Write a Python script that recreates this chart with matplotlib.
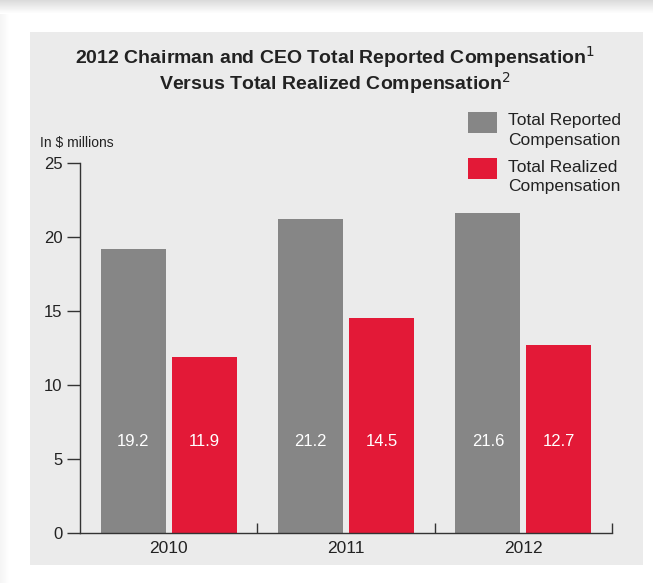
import numpy as np
from matplotlib import pyplot as plt
from matplotlib.patches import Rectangle

years = ["2010", "2011", "2012"]
reported = [19.2, 21.2, 21.6]
realized = [11.9, 14.5, 12.7]
y_ticks = [0, 5, 10, 15, 20, 25]
series_names = [("Total Reported", "Compensation"), ("Total Realized", "Compensation")]

plt.rcParams['font.family'] = ['Liberation Sans Narrow', 'Liberation Sans', 'DejaVu Sans']

W, H = 653, 583
fig = plt.figure(figsize=(W / 100, H / 100), dpi=100)
fig.patch.set_facecolor('white')


def px_rect(x0, y0, x1, y1, color, z=-10):
    # rectangle given in pixel coords from top-left
    fig.patches.append(Rectangle((x0 / W, 1 - y1 / H), (x1 - x0) / W, (y1 - y0) / H,
                                 transform=fig.transFigure, color=color, zorder=z,
                                 linewidth=0))


# card shadow (soft gradient at top and left) + gray panel
for i in range(14):
    c = 0.86 + 0.14 * i / 13
    px_rect(0, i, W, i + 1, (c, c, c))
for i in range(10):
    c = 0.96 + 0.04 * i / 9
    px_rect(i, 14, i + 1, H, (c, c, c))
px_rect(30, 32, 643, 565, '#ebebeb')

ax = fig.add_axes([80 / W, 50 / H, 532 / W, 370 / H])
ax.set_facecolor('none')

gray = '#868686'
red = '#e31937'
x = np.arange(len(years)) + 0.5
w = 0.367
ax.bar(x - 0.2, reported, width=w, color=gray)
ax.bar(x + 0.2, realized, width=w, color=red)

for xi, r, z in zip(x, reported, realized):
    ax.text(xi - 0.2, 6.2, f"{r:.1f}", color='white', ha='center', va='center', fontsize=12)
    ax.text(xi + 0.2, 6.2, f"{z:.1f}", color='white', ha='center', va='center', fontsize=12)

ax.set_xlim(0, 3)
ax.set_ylim(0, 25)
ax.set_yticks(y_ticks)
ax.tick_params(axis='y', length=9.5, width=1, color='#333333', labelsize=12, pad=3,
               labelcolor='#222222')
ax.set_xticks([1, 2, 3])
ax.set_xticklabels([])
ax.tick_params(axis='x', direction='in', length=7.5, width=1, color='#333333')
ax.set_xticks(x, minor=True)
ax.set_xticklabels(years, minor=True, fontsize=12.5, color='#222222')
ax.tick_params(axis='x', which='minor', length=0, pad=6)
for s in ['top', 'right']:
    ax.spines[s].set_visible(False)
for s in ['left', 'bottom']:
    ax.spines[s].set_color('#333333')
    ax.spines[s].set_linewidth(1)

fig.text(40 / W, 1 - 143 / H, "In $ millions", fontsize=10, color='#222222',
         va='center', ha='left')

fig.text(335 / W, 1 - 57 / H, r"2012 Chairman and CEO Total Reported Compensation$^{1}$",
         fontsize=14, fontweight='bold', ha='center', va='center', color='#222222')
fig.text(335 / W, 1 - 83 / H, r"Versus Total Realized Compensation$^{2}$",
         fontsize=14, fontweight='bold', ha='center', va='center', color='#222222')

# legend drawn by hand: square aligned with the first text line
for k, (col, (l1, l2)) in enumerate(zip([gray, red], series_names)):
    top = 112 + 46 * k
    px_rect(468, top, 497, top + 21, col, z=1)
    fig.text(508 / W, 1 - (top + 9) / H, l1, fontsize=12.5, color='#222222',
             va='center', ha='left')
    fig.text(508 / W, 1 - (top + 29) / H, l2, fontsize=12.5, color='#222222',
             va='center', ha='left')

fig.savefig('out.png', dpi=100)
